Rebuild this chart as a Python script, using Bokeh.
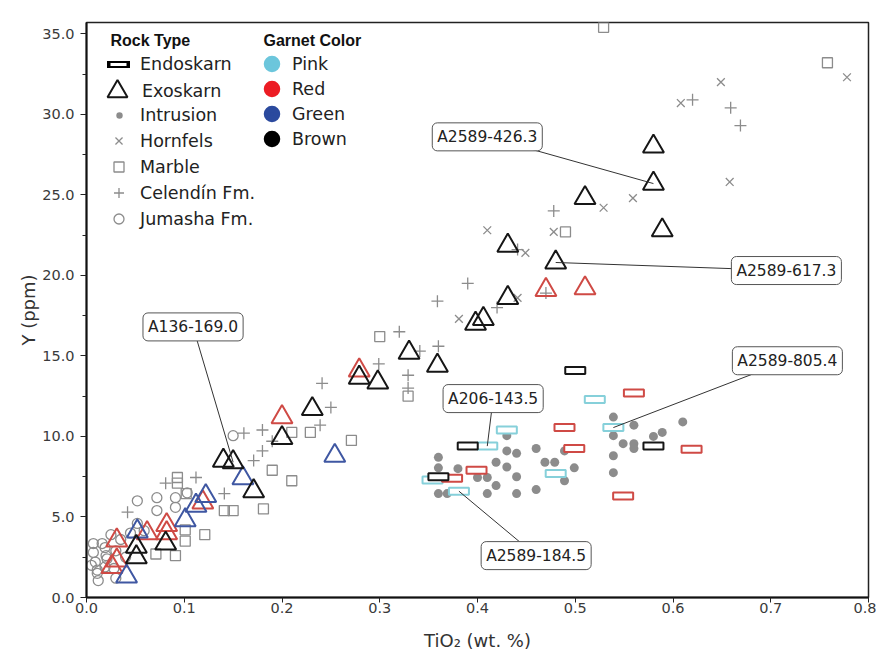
from bokeh.plotting import figure
from bokeh.models import (Range1d, FixedTicker, NumeralTickFormatter, Legend, LegendItem, Label)
from bokeh.embed import file_html
from bokeh.resources import INLINE

# ---------------- data (TiO2 wt.% , Y ppm) ----------------
x_ticks = [0.0, 0.1, 0.2, 0.3, 0.4, 0.5, 0.6, 0.7, 0.8]
y_ticks = [0.0, 5.0, 10.0, 15.0, 20.0, 25.0, 30.0, 35.0]
y_minor = [2.5, 7.5, 12.5, 17.5, 22.5, 27.5, 32.5]

endo_brown_x = [0.36, 0.39, 0.50, 0.58]
endo_brown_y = [7.5, 9.4, 14.1, 9.4]
endo_pink_x = [0.354, 0.381, 0.41, 0.43, 0.48, 0.52, 0.539]
endo_pink_y = [7.3, 6.6, 9.4, 10.4, 7.7, 12.3, 10.55]
endo_red_x = [0.374, 0.399, 0.489, 0.499, 0.549, 0.56, 0.619]
endo_red_y = [7.4, 7.9, 10.55, 9.25, 6.3, 12.7, 9.2]

exo_brown_x = [0.58, 0.58, 0.589, 0.51, 0.431, 0.48, 0.431, 0.406, 0.398, 0.33, 0.359,
               0.279, 0.298, 0.231, 0.20, 0.14, 0.15, 0.171, 0.081, 0.051, 0.051]
exo_brown_y = [28.0, 25.7, 22.8, 24.8, 21.85, 20.8, 18.6, 17.3, 17.0, 15.2, 14.4,
               13.65, 13.35, 11.7, 9.9, 8.5, 8.4, 6.6, 3.35, 3.15, 2.5]
exo_red_x = [0.51, 0.47, 0.279, 0.20, 0.119, 0.082, 0.082, 0.062, 0.031, 0.031, 0.026]
exo_red_y = [19.2, 19.1, 14.1, 11.2, 5.9, 4.5, 4.0, 4.0, 3.55, 2.3, 1.9]
exo_green_x = [0.254, 0.16, 0.122, 0.112, 0.101, 0.052, 0.041]
exo_green_y = [8.8, 7.4, 6.3, 5.7, 4.8, 4.1, 1.3]

intr_x = [0.36, 0.36, 0.38, 0.36, 0.369, 0.41, 0.419, 0.44, 0.46, 0.44, 0.43, 0.419,
          0.43, 0.44, 0.46, 0.469, 0.479, 0.489, 0.499, 0.43, 0.40, 0.41, 0.539, 0.539,
          0.539, 0.539, 0.549, 0.56, 0.56, 0.56, 0.58, 0.589, 0.61, 0.489]
intr_y = [8.7, 8.05, 8.0, 6.45, 6.45, 6.45, 6.95, 6.45, 6.7, 7.5, 8.1, 8.4,
          9.1, 8.95, 9.25, 8.4, 8.4, 7.25, 8.05, 10.05, 7.45, 7.45, 11.2, 10.05,
          8.8, 7.75, 9.55, 10.7, 9.55, 9.25, 10.0, 10.25, 10.9, 9.1]

horn_x = [0.649, 0.778, 0.608, 0.658, 0.559, 0.529, 0.41, 0.478, 0.449, 0.441, 0.381]
horn_y = [32.0, 32.3, 30.7, 25.8, 24.8, 24.2, 22.8, 22.7, 21.4, 18.6, 17.3]

marb_x = [0.529, 0.758, 0.49, 0.30, 0.329, 0.229, 0.21, 0.271, 0.19, 0.21, 0.181, 0.15,
          0.141, 0.121, 0.101, 0.093, 0.093, 0.102, 0.091, 0.071, 0.101]
marb_y = [35.4, 33.2, 22.7, 16.2, 12.5, 10.25, 10.25, 9.75, 7.9, 7.25, 5.5, 5.4,
          5.4, 3.9, 3.5, 7.45, 7.1, 6.45, 2.6, 2.7, 4.2]

cel_x = [0.62, 0.659, 0.669, 0.478, 0.47, 0.39, 0.359, 0.42, 0.441, 0.32, 0.341, 0.36,
         0.299, 0.329, 0.329, 0.241, 0.25, 0.239, 0.18, 0.161, 0.19, 0.18, 0.171, 0.141,
         0.112, 0.081, 0.042]
cel_y = [30.9, 30.4, 29.3, 24.0, 18.9, 19.5, 18.4, 18.0, 21.6, 16.5, 15.3, 15.6,
         14.5, 13.8, 13.0, 13.3, 11.8, 10.7, 10.4, 10.2, 9.7, 9.1, 8.5, 6.45,
         7.45, 7.1, 5.3]

jum_x = [0.15, 0.052, 0.072, 0.072, 0.091, 0.091, 0.103, 0.052, 0.059, 0.007, 0.007,
         0.009, 0.011, 0.019, 0.021, 0.012, 0.019, 0.028, 0.016, 0.011, 0.03, 0.03,
         0.04, 0.025, 0.035, 0.045, 0.02, 0.005]
jum_y = [10.05, 6.0, 6.2, 5.4, 6.2, 5.6, 6.5, 4.6, 4.15, 3.35, 2.8,
         2.2, 1.7, 3.1, 2.4, 1.05, 1.9, 1.8, 3.35, 1.5, 2.9, 1.2,
         2.5, 3.9, 3.6, 4.0, 2.6, 2.0]

label_text = ["A2589-426.3", "A2589-617.3", "A136-169.0", "A2589-805.4", "A206-143.5", "A2589-184.5"]
label_x = [0.41, 0.716, 0.109, 0.717, 0.416, 0.460]
label_y = [28.6, 20.3, 16.8, 14.7, 12.35, 2.6]
target_x = [0.58, 0.48, 0.15, 0.539, 0.41, 0.381]
target_y = [25.7, 20.8, 8.4, 10.55, 9.4, 6.6]

rock_names = ["Endoskarn", "Exoskarn", "Intrusion", "Hornfels", "Marble", "Celendín Fm.", "Jumasha Fm."]
garnet_names = ["Pink", "Red", "Green", "Brown"]

# ---------------- styles ----------------
FONT = "DejaVu Sans"
GRAY = "#8c8c8c"
C_PINK_L, C_RED_L, C_GREEN_L, C_BROWN_L = "#6cc6dc", "#ec1c24", "#2b4a9e", "#000000"
C_PINK, C_RED, C_GREEN, C_BROWN = "#86d0da", "#cf4a45", "#3f57a2", "#161616"

p = figure(frame_width=782, frame_height=575, x_range=Range1d(0, 0.8), y_range=Range1d(0, 35.7),
           output_backend="svg", toolbar_location=None,
           min_border_left=86, min_border_right=8, min_border_top=22, min_border_bottom=50)
p.xgrid.visible = False
p.ygrid.visible = False
p.outline_line_color = "#222222"
p.outline_line_width = 1.5

p.xaxis.ticker = FixedTicker(ticks=x_ticks)
p.yaxis.ticker = FixedTicker(ticks=y_ticks, minor_ticks=y_minor)
p.xaxis.formatter = NumeralTickFormatter(format="0.0")
p.yaxis.formatter = NumeralTickFormatter(format="0.0")
for ax in (p.xaxis, p.yaxis):
    ax.axis_line_width = 2
    ax.axis_line_color = "#111111"
    ax.major_tick_line_color = "#222222"
    ax.minor_tick_line_color = "#222222"
    ax.major_tick_in = 0
    ax.major_tick_out = 6
    ax.minor_tick_in = 0
    ax.minor_tick_out = 4
    ax.major_label_text_font = FONT
    ax.major_label_text_font_size = "14.5px"
    ax.major_label_text_color = "#3a3a3a"
    ax.axis_label_text_font = FONT
    ax.axis_label_text_font_size = "18px"
    ax.axis_label_text_font_style = "normal"
    ax.axis_label_text_color = "#333333"
p.xaxis.minor_tick_out = 0
p.xaxis.major_tick_out = 5
p.xaxis.major_label_standoff = 0
p.yaxis.major_label_standoff = 6
p.xaxis.axis_label = "TiO₂ (wt. %)"
p.yaxis.axis_label = "Y (ppm)"
p.xaxis.axis_label_standoff = 14
p.yaxis.axis_label_standoff = 0

# ---------------- data glyphs ----------------
r_jum = p.scatter(jum_x, jum_y, marker="circle", size=10, fill_color=None, line_color=GRAY, line_width=1.3)
r_marb = p.scatter(marb_x, marb_y, marker="square", size=10, fill_color=None, line_color=GRAY, line_width=1.3)
r_cel = p.scatter(cel_x, cel_y, marker="cross", size=12, line_color=GRAY, line_width=1.3)
r_horn = p.scatter(horn_x, horn_y, marker="x", size=11, line_color=GRAY, line_width=1.3)
r_intr = p.scatter(intr_x, intr_y, marker="circle", size=9, fill_color=GRAY, line_color=None)

p.scatter(exo_red_x, exo_red_y, marker="triangle", size=21, fill_color=None, line_color=C_RED, line_width=2)
p.scatter(exo_green_x, exo_green_y, marker="triangle", size=21, fill_color=None, line_color=C_GREEN, line_width=2)
r_exo = p.scatter(exo_brown_x, exo_brown_y, marker="triangle", size=21, fill_color=None,
                  line_color=C_BROWN, line_width=2)

for ex, ey, col in ((endo_pink_x, endo_pink_y, C_PINK), (endo_red_x, endo_red_y, C_RED),
                    (endo_brown_x, endo_brown_y, C_BROWN)):
    p.rect(ex, ey, width=20, height=7, width_units="screen", height_units="screen",
           fill_color="white", line_color=col, line_width=2)

# leader lines and sample labels
p.segment(x0=label_x, y0=label_y, x1=target_x, y1=target_y, line_color="#333333", line_width=1)
for t, lx, ly in zip(label_text, label_x, label_y):
    p.add_layout(Label(x=lx, y=ly, text=t, text_align="center", text_baseline="middle",
                       text_font=FONT, text_font_size="15.5px", text_color="#222222",
                       background_fill_color="white", border_line_color="#555555",
                       border_line_width=1, padding=5, border_radius=5))

# ---------------- legends (icons from hidden renderers) ----------------
def hidden(xs, ys, **kw):
    r = p.scatter(xs[:1], ys[:1], **kw)
    r.visible = False
    return r

r_endo_out = hidden(endo_brown_x, endo_brown_y, marker="dash", line_color="black", line_width=7, line_cap="square")
r_endo_in = hidden(endo_brown_x, endo_brown_y, marker="dash", line_color="white", line_width=3, line_cap="butt")
garnet_cols = [C_PINK_L, C_RED_L, C_GREEN_L, C_BROWN_L]
garnet_src = [(endo_pink_x, endo_pink_y), (endo_red_x, endo_red_y),
              (exo_green_x, exo_green_y), (exo_brown_x, exo_brown_y)]
r_gar = [hidden(sx, sy, marker="circle", fill_color=c, line_color=c, line_width=6.5)
         for c, (sx, sy) in zip(garnet_cols, garnet_src)]

def make_legend(items, loc, gw, gh, spacing, standoff):
    lg = Legend(items=items, location=loc, orientation="vertical", glyph_width=gw, glyph_height=gh,
                spacing=spacing, padding=0, margin=0, label_standoff=standoff,
                border_line_color=None, background_fill_alpha=0,
                label_text_font=FONT, label_text_font_size="17.5px", label_text_color="#222222")
    p.add_layout(lg)
    return lg

make_legend([LegendItem(label=rock_names[0], renderers=[r_endo_out, r_endo_in])], (12, 513), 40, 40, 0, 2)
make_legend([LegendItem(label=rock_names[1], renderers=[r_exo])], (6, 481), 50, 50, 0, 0)
make_legend([LegendItem(label=rock_names[2], renderers=[r_intr])], (25, 472), 16, 20, 0, 13)
make_legend([LegendItem(label=rock_names[3], renderers=[r_horn]),
             LegendItem(label=rock_names[4], renderers=[r_marb]),
             LegendItem(label=rock_names[5], renderers=[r_cel]),
             LegendItem(label=rock_names[6], renderers=[r_jum])], (20, 366), 25, 25, 1, 9)
make_legend([LegendItem(label=n, renderers=[r]) for n, r in zip(garnet_names, r_gar)],
            (173, 446), 25, 25, 0, 8)

for t, tx in (("Rock Type", 24), ("Garnet Color", 177)):
    p.add_layout(Label(x=tx, y=557, x_units="screen", y_units="screen", text=t,
                       text_font="Liberation Sans", text_font_style="bold", text_font_size="16px",
                       text_color="#111111", text_baseline="middle"))

open("out.html", "w").write(file_html(p, INLINE))
